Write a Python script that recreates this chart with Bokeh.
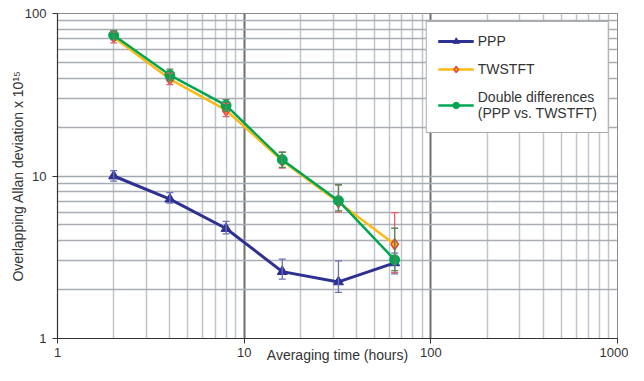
import math
from bokeh.plotting import figure
from bokeh.models import (ColumnDataSource, Whisker, TeeHead, Legend, LegendItem,
                          FixedTicker, CustomJSTickFormatter)
from bokeh.embed import file_html
from bokeh.resources import INLINE

# ---- data ----
tau = [2, 4, 8, 16, 32, 64]

ppp = [10.0, 7.2, 4.75, 2.58, 2.23, 2.92]
ppp_hi = [10.8, 7.9, 5.25, 3.08, 3.0, 3.35]
ppp_lo = [9.3, 6.8, 4.4, 2.32, 1.92, 2.5]

twstft = [71.5, 39.5, 25.4, 12.4, 6.9, 3.8]
twstft_hi = [77.0, 43.0, 28.0, 14.0, 8.8, 5.95]
twstft_lo = [66.0, 36.5, 23.2, 11.2, 6.0, 2.55]

dd = [73.5, 41.8, 27.2, 12.6, 7.05, 3.05]
dd_hi = [78.5, 45.5, 29.5, 14.0, 8.85, 4.77]
dd_lo = [69.0, 38.5, 25.0, 11.3, 6.1, 2.62]

x_major = [1, 10, 100, 1000]
x_minor = [m * d for d in (1, 10, 100) for m in range(2, 10)]
y_major = [1, 10, 100]
y_minor = [m * d for d in (1, 10) for m in range(2, 10)]

FONT = "Liberation Sans"
C_PPP = "#2e3192"
C_TW = "#fdb913"
C_TW_EDGE = "#ef4136"
C_DD = "#00a651"

p = figure(width=628, height=365, x_axis_type="log", y_axis_type="log",
           x_range=(1, 1000), y_range=(1, 100),
           output_backend="svg", toolbar_location=None,
           min_border_left=57, min_border_right=11, min_border_top=13,
           min_border_bottom=26)
p.outline_line_color = "#8a8a8a"
p.background_fill_color = "white"

xt = FixedTicker(ticks=x_major, minor_ticks=x_minor)
yt = FixedTicker(ticks=y_major, minor_ticks=y_minor)
p.xaxis.ticker = xt
p.yaxis.ticker = yt
p.xgrid.ticker = xt
p.ygrid.ticker = yt

p.xgrid.grid_line_color = "#6f6f6f"
p.xgrid.grid_line_width = 2
p.xgrid.minor_grid_line_color = "#c0c4cb"
p.xgrid.minor_grid_line_width = 1.5
p.ygrid.grid_line_color = "#a3a7ae"
p.ygrid.grid_line_width = 1.5
p.ygrid.minor_grid_line_color = "#a9adb4"
p.ygrid.minor_grid_line_width = 1.5

fmt = CustomJSTickFormatter(code="return String(Math.round(tick));")
for ax in (p.xaxis, p.yaxis):
    ax.formatter = fmt
    ax.axis_line_color = "#333333"
    ax.axis_line_width = 1.2
    ax.major_tick_line_color = "#333333"
    ax.major_tick_out = 5
    ax.major_tick_in = 0
    ax.minor_tick_out = 0
    ax.minor_tick_in = 0
    ax.major_label_text_font = FONT
    ax.major_label_text_font_size = "13px"
    ax.major_label_text_color = "#333333"
    ax.axis_label_text_font = FONT
    ax.axis_label_text_font_size = "14px"
    ax.axis_label_text_font_style = "normal"
    ax.axis_label_text_color = "#333333"

p.xaxis.axis_label = "Averaging time (hours)"
p.xaxis.major_label_standoff = 4
p.xaxis.axis_label_standoff = -13
p.yaxis.axis_label = "Overlapping Allan deviation x 10\u00b9\u2075"
p.yaxis.major_label_standoff = 6
p.yaxis.axis_label_standoff = -4

s_ppp = ColumnDataSource(dict(x=tau, y=ppp, hi=ppp_hi, lo=ppp_lo))
s_tw = ColumnDataSource(dict(x=tau, y=twstft, hi=twstft_hi, lo=twstft_lo))
s_dd = ColumnDataSource(dict(x=tau, y=dd, hi=dd_hi, lo=dd_lo))


def whisker(src, color):
    w = Whisker(source=src, base="x", upper="hi", lower="lo",
                line_color=color, line_width=1.3,
                upper_head=TeeHead(size=7, line_color=color, line_width=1.3),
                lower_head=TeeHead(size=7, line_color=color, line_width=1.3),
                level="glyph")
    p.add_layout(w)


whisker(s_ppp, "#6d70b3")
whisker(s_tw, "#e4606b")
whisker(s_dd, "#4f8a57")

l_ppp = p.line("x", "y", source=s_ppp, line_color=C_PPP, line_width=3)
m_ppp = p.scatter("x", "y", source=s_ppp, marker="triangle", size=10,
                  fill_color=C_PPP, line_color=C_PPP)
l_tw = p.line("x", "y", source=s_tw, line_color=C_TW, line_width=2.5)
m_tw = p.scatter("x", "y", source=s_tw, marker="diamond", size=11,
                 fill_color=C_TW, line_color=C_TW_EDGE, line_width=1.5)
l_dd = p.line("x", "y", source=s_dd, line_color=C_DD, line_width=2.5)
m_dd = p.scatter("x", "y", source=s_dd, marker="circle", size=10,
                 fill_color=C_DD, line_color=C_DD)

legend = Legend(items=[
    LegendItem(label="PPP", renderers=[l_ppp, m_ppp]),
    LegendItem(label="TWSTFT", renderers=[l_tw, m_tw]),
    LegendItem(label="Double differences\n(PPP vs. TWSTFT)", renderers=[l_dd, m_dd]),
], location="top_right")
legend.margin = 8
legend.padding = 11
legend.spacing = 12
legend.glyph_width = 36
legend.glyph_height = 16
legend.label_height = 16
legend.label_standoff = 4
legend.label_text_font = FONT
legend.label_text_font_size = "14px"
legend.label_text_color = "#333333"
legend.border_line_color = "#555555"
legend.border_line_width = 1.2
legend.background_fill_color = "white"
legend.background_fill_alpha = 1.0
p.add_layout(legend)

open("out.html", "w").write(file_html(p, INLINE))
